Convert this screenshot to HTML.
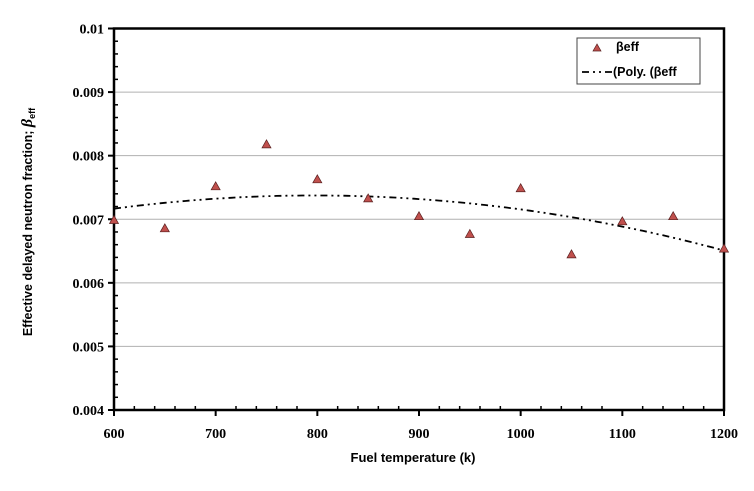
<!DOCTYPE html>
<html><head><meta charset="utf-8"><style>
html,body{margin:0;padding:0;background:#fff;width:754px;height:491px;overflow:hidden}
svg text{font-weight:bold}
</style></head><body>
<svg width="754" height="491">
<g id="grid"></g>
<g id="axes"></g>
<g id="series"></g>
<text x="413" y="462" text-anchor="middle" font-family="Liberation Sans, sans-serif" font-size="13">Fuel temperature (k)</text>
<text transform="translate(32,222) rotate(-90)" text-anchor="middle" font-family="Liberation Sans, sans-serif" font-size="12.5">Effective delayed neutron fraction; <tspan font-style="italic" font-family="Liberation Serif, serif" font-size="16">β</tspan><tspan font-size="9" dy="3">eff</tspan></text>
<g>
<rect x="577" y="38" width="123" height="46" fill="#fff" stroke="#444" stroke-width="1"/>
<polygon points="597,44 593,51 601,51" fill="#c0504d" stroke="#5a2020" stroke-width="0.7"/>
<text x="616" y="51" font-family="Liberation Sans, sans-serif" font-size="12.5">βeff</text>
<line x1="582" y1="72" x2="615" y2="72" stroke="#000" stroke-width="1.8" stroke-dasharray="7,4,2,4,2,4"/>
<text x="613" y="76" font-family="Liberation Sans, sans-serif" font-size="12.5">(Poly. (βeff</text>
</g>
</svg>
<script>
const xs=[600,650,700,750,800,850,900,950,1000,1050,1100,1150,1200];
const ys=[0.00698,0.00685,0.00751,0.00817,0.00762,0.00732,0.00704,0.00676,0.00748,0.00644,0.00696,0.00704,0.00653];
const xTicks=[600,700,800,900,1000,1100,1200];
const yTicks=[0.004,0.005,0.006,0.007,0.008,0.009,0.01];
const yLabels=["0.004","0.005","0.006","0.007","0.008","0.009","0.01"];
const X0=114,X1=724,Y0=410,Y1=28.5;
const sx=v=>X0+(v-600)/600*(X1-X0);
const sy=v=>Y0-(v-0.004)/0.006*(Y0-Y1);
const NS="http://www.w3.org/2000/svg";
function mk(t,a,p){const e=document.createElementNS(NS,t);for(const k in a)e.setAttribute(k,a[k]);p.appendChild(e);return e;}
const grid=document.getElementById('grid'),axes=document.getElementById('axes'),ser=document.getElementById('series');
yTicks.forEach((v,i)=>{
 if(i>0&&i<yTicks.length-1){const g=mk('line',{x1:X0,x2:X1,y1:sy(v),y2:sy(v),stroke:'#b0b0b0','stroke-width':1},grid);
 
 }
 mk('line',{x1:X0-6,x2:X0,y1:sy(v),y2:sy(v),stroke:'#000','stroke-width':2},axes);
 const t=mk('text',{x:X0-10,y:sy(v)+5,'text-anchor':'end','font-family':'Liberation Serif, serif','font-size':14},axes);
 t.textContent=yLabels[i];
 
 
 if(i<yTicks.length-1)for(let k=1;k<5;k++){const yy=sy(v+k*0.0002);mk('line',{x1:X0,x2:X0+4,y1:yy,y2:yy,stroke:'#000','stroke-width':1.5},axes);}
});
xTicks.forEach((v,i)=>{
 mk('line',{x1:sx(v),x2:sx(v),y1:Y0,y2:Y0+6,stroke:'#000','stroke-width':2},axes);
 const t=mk('text',{x:sx(v),y:Y0+28,'text-anchor':'middle','font-family':'Liberation Serif, serif','font-size':14},axes);
 t.textContent=String(v);
 
 
 if(i<xTicks.length-1)for(let k=1;k<5;k++){const xx=sx(v+k*20);mk('line',{x1:xx,x2:xx,y1:Y0-4,y2:Y0,stroke:'#000','stroke-width':1.5},axes);}
});
mk('rect',{x:X0,y:Y1,width:X1-X0,height:Y0-Y1,fill:'none',stroke:'#000','stroke-width':2.5},axes);
// polynomial trendline (order 2 least squares)
function fit(n){const m=n+1,A=[],b=[];const u=x=>(x-900)/300;
 for(let i=0;i<m;i++){A.push([]);b.push(0);for(let j=0;j<m;j++){let s=0;xs.forEach(x=>s+=Math.pow(u(x),i+j));A[i].push(s);}xs.forEach((x,k)=>b[i]+=ys[k]*Math.pow(u(x),i));}
 for(let i=0;i<m;i++){for(let r=i+1;r<m;r++){const f=A[r][i]/A[i][i];for(let c=i;c<m;c++)A[r][c]-=f*A[i][c];b[r]-=f*b[i];}}
 const c=new Array(m).fill(0);for(let i=m-1;i>=0;i--){let s=b[i];for(let j=i+1;j<m;j++)s-=A[i][j]*c[j];c[i]=s/A[i][i];}
 return x=>c.reduce((s,ci,i)=>s+ci*Math.pow(u(x),i),0);}
const f=fit(2);let d='';
for(let x=600;x<=1200;x+=5)d+=(x===600?'M':'L')+sx(x).toFixed(1)+','+sy(f(x)).toFixed(1);
const tl=mk('path',{d:d,fill:'none',stroke:'#000','stroke-width':1.8,'stroke-dasharray':'7,4,2,4,2,4'},ser);


xs.forEach((x,i)=>{const cx=sx(x),cy=sy(ys[i]);
 const p=mk('polygon',{points:`${cx},${cy-5} ${cx-4.5},${cy+3} ${cx+4.5},${cy+3}`,fill:'#c0504d',stroke:'#5a2020','stroke-width':0.7},ser);
 
 });
</script>
</body></html>
